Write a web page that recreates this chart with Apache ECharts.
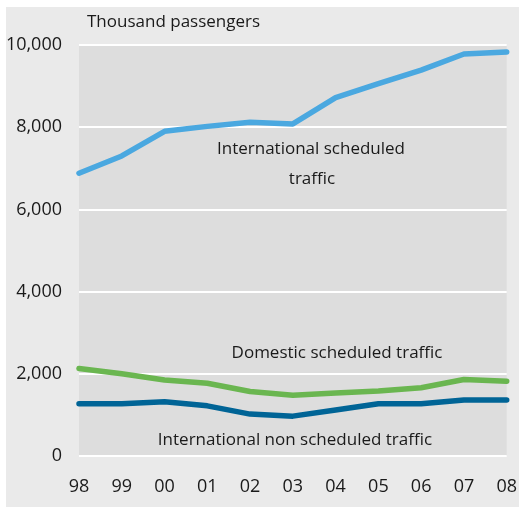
<!DOCTYPE html>
<html><head><meta charset="utf-8">
<script src="https://cdn.jsdelivr.net/npm/echarts@6/dist/echarts.min.js"></script>
<style>html,body{margin:0;padding:0;background:#fff}#c{width:520px;height:509px}</style>
</head><body><div id="c"></div>
<script>
const years = ['98','99','00','01','02','03','04','05','06','07','08'];
const intlScheduled = [6880, 7300, 7900, 8020, 8120, 8080, 8720, 9060, 9390, 9780, 9830];
const domesticScheduled = [2130, 2000, 1850, 1770, 1570, 1480, 1530, 1580, 1660, 1860, 1820];
const intlNonScheduled = [1270, 1270, 1320, 1220, 1020, 970, 1120, 1270, 1270, 1360, 1360];
const yTicks = [0, 2000, 4000, 6000, 8000, 10000];

const FONT = '"Open Sans", sans-serif';
const chart = echarts.init(document.getElementById('c'), null, {renderer: 'canvas'});
const mk = (name, data, color) => ({
  name, type: 'line', data, symbol: 'none', smooth: false,
  lineStyle: {color, width: 5.5, cap: 'round', join: 'round'}, itemStyle: {color}, z: 5
});
chart.setOption({
  animation: false,
  backgroundColor: '#ffffff',
  graphic: [
    {type: 'rect', shape: {x: 6, y: 7, width: 513, height: 500}, style: {fill: '#eaeaea'}, z: -10, silent: true},
    {type: 'text', x: 87, y: 22, style: {text: 'Thousand passengers', font: '17px ' + FONT, fill: '#1a1a1a', verticalAlign: 'middle'}, z: 10},
    {type: 'text', x: 311, y: 149, style: {text: 'International scheduled', font: '17px ' + FONT, fill: '#1a1a1a', align: 'center', verticalAlign: 'middle'}, z: 10},
    {type: 'text', x: 312, y: 179, style: {text: 'traffic', font: '17px ' + FONT, fill: '#1a1a1a', align: 'center', verticalAlign: 'middle'}, z: 10},
    {type: 'text', x: 337, y: 353, style: {text: 'Domestic scheduled traffic', font: '17px ' + FONT, fill: '#1a1a1a', align: 'center', verticalAlign: 'middle'}, z: 10},
    {type: 'text', x: 295, y: 440, style: {text: 'International non scheduled traffic', font: '17px ' + FONT, fill: '#1a1a1a', align: 'center', verticalAlign: 'middle'}, z: 10}
  ],
  grid: {left: 79, right: 9, top: 45, bottom: 53, show: true, backgroundColor: '#dddddd', borderWidth: 0},
  xAxis: {
    type: 'category', data: years, boundaryGap: false,
    axisLine: {show: false}, axisTick: {show: false},
    axisLabel: {fontFamily: FONT, fontSize: 18, color: '#1a1a1a', margin: 22}
  },
  yAxis: {
    type: 'value', min: 0, max: 10000, interval: 2000,
    axisLine: {show: false}, axisTick: {show: false},
    splitLine: {lineStyle: {color: '#ffffff', width: 2}},
    axisLabel: {fontFamily: FONT, fontSize: 18, color: '#1a1a1a', margin: 17,
      formatter: v => yTicks.includes(v) ? v.toLocaleString('en-US') : ''}
  },
  series: [
    mk('International scheduled traffic', intlScheduled, '#4aa8e0'),
    mk('Domestic scheduled traffic', domesticScheduled, '#6ab650'),
    mk('International non scheduled traffic', intlNonScheduled, '#006496')
  ]
});
</script></body></html>
